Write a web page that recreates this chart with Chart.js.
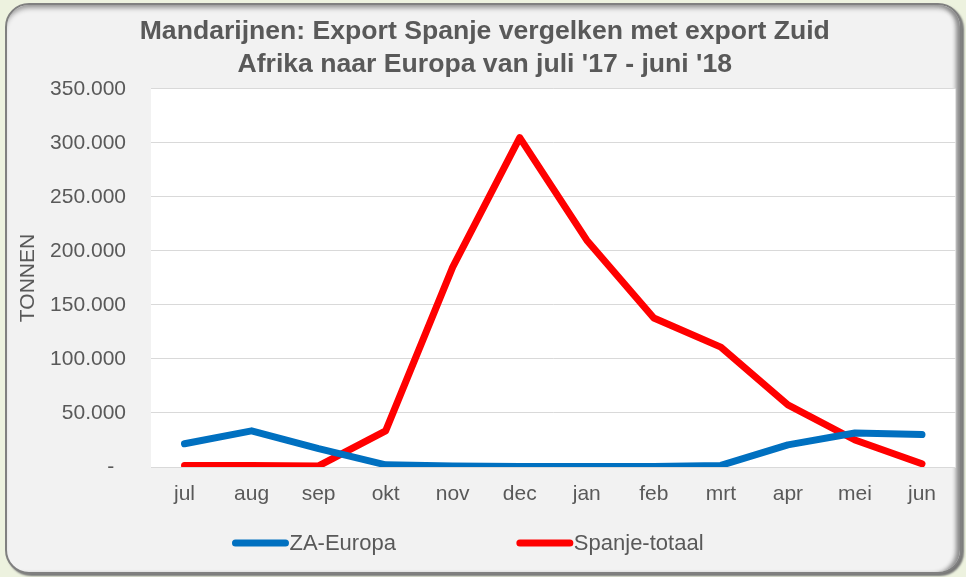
<!DOCTYPE html>
<html>
<head>
<meta charset="utf-8">
<script src="https://cdn.jsdelivr.net/npm/chart.js@4/dist/chart.umd.min.js"></script>
<style>
  html, body { margin: 0; padding: 0; background: #edf2df; }
  #wrap { position: relative; width: 966px; height: 577px; overflow: hidden; }
  #card {
    position: absolute; left: 5px; top: 3px; width: 957px; height: 571px;
    box-sizing: border-box; background: #f2f2f2;
    border: 2px solid #808080; border-radius: 24px;
    box-shadow: inset -6px 0 4px -2px #8a8a8a, inset 0 6px 5px -3px #9a9a9a, 2px 2px 2px #777;
  }
  canvas { position: absolute; left: 0; top: 0; }
</style>
</head>
<body>
<div id="wrap">
  <div id="card"></div>
  <canvas id="chart" width="966" height="577"></canvas>
</div>
<script>
const months = ['jul', 'aug', 'sep', 'okt', 'nov', 'dec', 'jan', 'feb', 'mrt', 'apr', 'mei', 'jun']
const zaEuropa = [21500, 33500, 17000, 2000, 1000, 500, 500, 500, 1500, 20500, 31500, 30000]
const spanjeTotaal = [1500, 1500, 1000, 33500, 185000, 305000, 210000, 138000, 111000, 57500, 25000, 3000]
const yTicks = [0, 50000, 100000, 150000, 200000, 250000, 300000, 350000]

const grey = '#595959'
const font = { family: 'Liberation Sans, Arial, sans-serif', size: 21 }

function fmt(v) {
  if (v === 0) return '-  '
  return String(v).replace(/\B(?=(\d{3})+(?!\d))/g, '.')
}

// white plot area, like the excel chart
const plotBg = {
  id: 'plotBg',
  beforeDraw(chart) {
    const { ctx, chartArea: a } = chart
    ctx.save()
    ctx.fillStyle = '#ffffff'
    ctx.fillRect(a.left, a.top, a.right - a.left, a.bottom - a.top)
    ctx.restore()
  },
}

// legend with long line markers and a wide gap
const lineLegend = {
  id: 'lineLegend',
  afterDraw(chart) {
    const { ctx } = chart
    const mark = 57, gap = 120, y = 543
    ctx.save()
    ctx.font = `22px ${font.family}`
    const items = chart.data.datasets.map((d) => ({
      d, w: mark + 1 + ctx.measureText(d.label).width,
    }))
    const total = items.reduce((s, it) => s + it.w, 0) + gap * (items.length - 1)
    let x = 468 - total / 2
    items.forEach(({ d, w }) => {
      ctx.strokeStyle = d.borderColor
      ctx.lineWidth = 7
      ctx.lineCap = 'round'
      ctx.beginPath()
      ctx.moveTo(x + 3.5, y)
      ctx.lineTo(x + mark - 3.5, y)
      ctx.stroke()
      ctx.fillStyle = grey
      ctx.textBaseline = 'middle'
      ctx.textAlign = 'left'
      ctx.fillText(d.label, x + mark + 0.5, y + 1)
      x += w + gap
    })
    ctx.restore()
  },
}

new Chart(document.getElementById('chart'), {
  type: 'line',
  data: {
    labels: months,
    datasets: [
      { label: 'ZA-Europa', data: zaEuropa, borderColor: '#0070c0', backgroundColor: '#0070c0' },
      { label: 'Spanje-totaal', data: spanjeTotaal, borderColor: '#ff0000', backgroundColor: '#ff0000' },
    ],
  },
  options: {
    responsive: false,
    devicePixelRatio: 1,
    animation: false,
    layout: { padding: { left: 14, right: 10.5, top: 0, bottom: 72 } },
    elements: {
      line: { borderWidth: 7, tension: 0, borderCapStyle: 'round', borderJoinStyle: 'round' },
      point: { radius: 0 },
    },
    plugins: {
      legend: { display: false },
      tooltip: { enabled: false },
      title: {
        display: true,
        text: ['Mandarijnen: Export Spanje vergelken met export Zuid', "Afrika naar Europa van juli '17 - juni '18"],
        color: grey,
        font: { family: font.family, size: 26.6, weight: 'bold', lineHeight: 1.24 },
        padding: { top: 15.5, bottom: 7.5 },
      },
    },
    scales: {
      x: {
        offset: true,
        afterFit(scale) { scale.height = 38 },
        grid: { display: false, drawTicks: false },
        border: { display: true, color: '#d9d9d9', width: 1 },
        ticks: { color: grey, font, padding: 15, maxRotation: 0 },
      },
      y: {
        min: 0,
        max: 350000,
        afterBuildTicks(scale) { scale.ticks = yTicks.map((v) => ({ value: v })) },
        afterFit(scale) { scale.width = 137 },
        grid: { color: '#d9d9d9', lineWidth: 1, drawTicks: false },
        border: { display: false },
        ticks: { color: grey, font, padding: 25, callback: (v) => fmt(v) },
        title: {
          display: true, text: 'TONNEN', color: grey, font,
          padding: { top: 2, bottom: 0 },
        },
      },
    },
  },
  plugins: [plotBg, lineLegend],
})
</script>
</body>
</html>
